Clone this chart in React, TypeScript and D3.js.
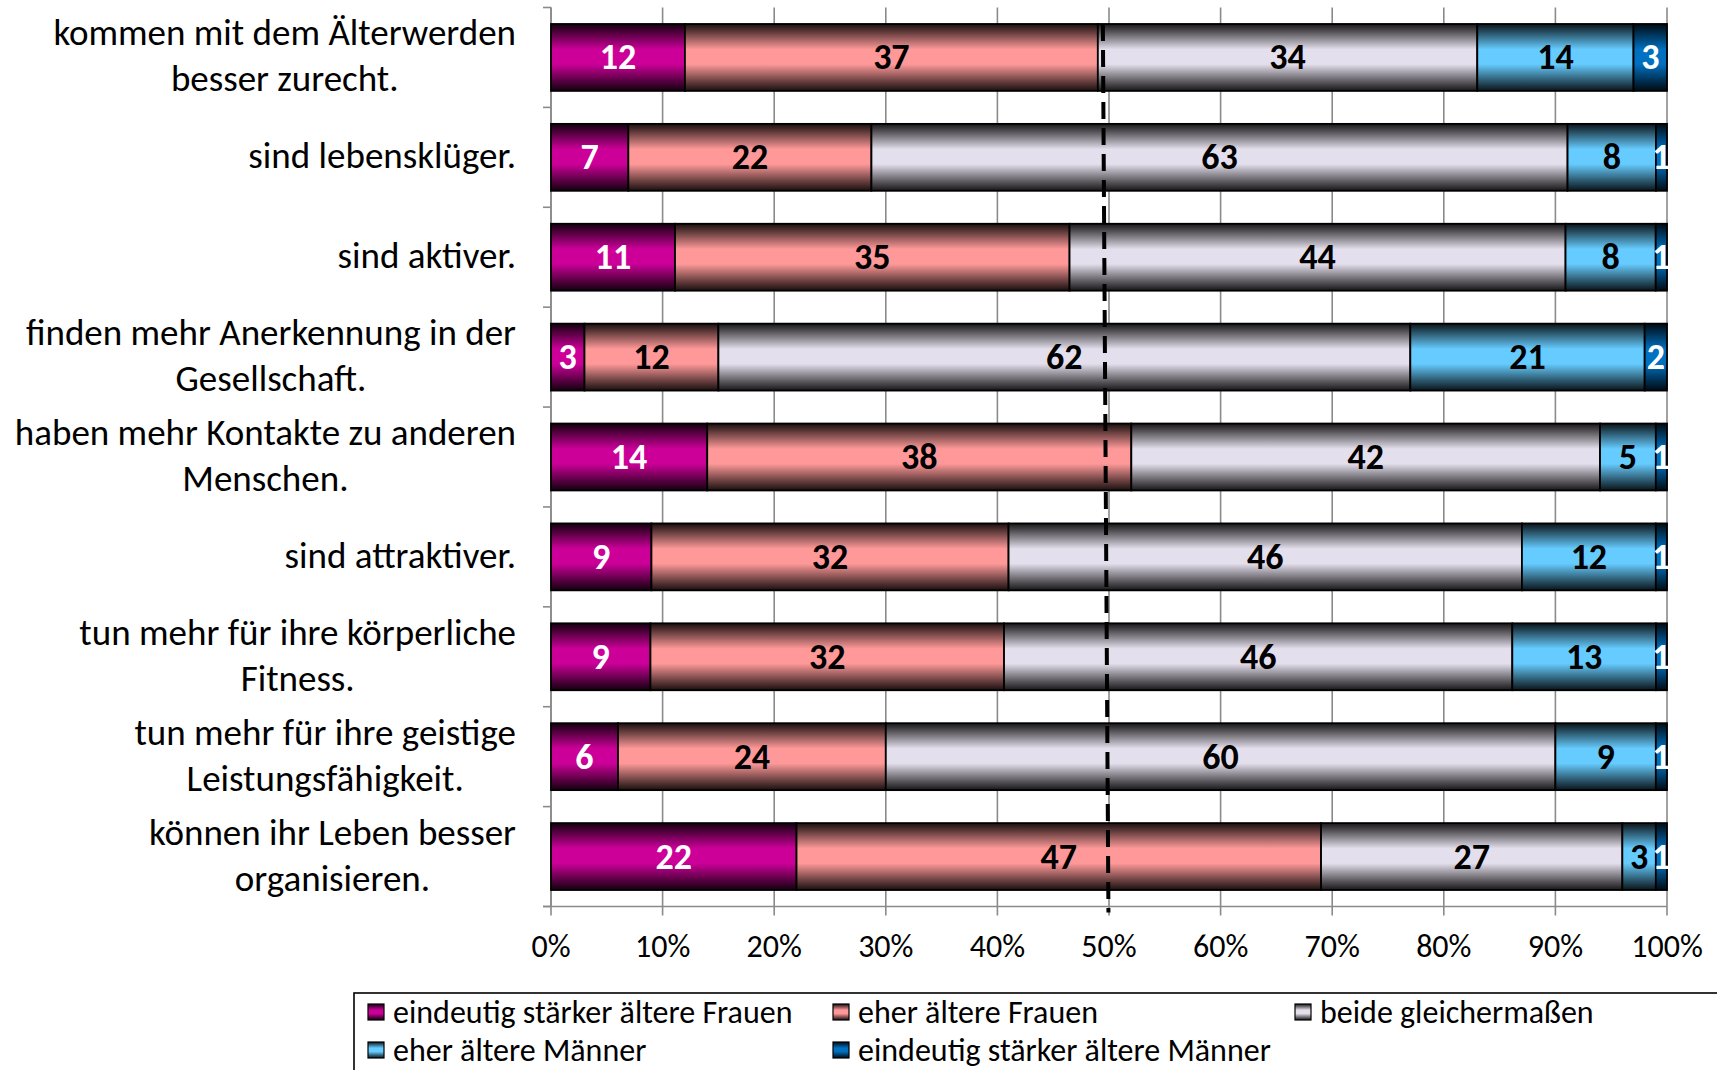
import React, { useEffect, useRef } from 'react';
import * as d3 from 'd3';

const categories: string[][] = [
  ['kommen mit dem Älterwerden', 'besser zurecht.'],
  ['sind lebensklüger.'],
  ['sind aktiver.'],
  ['finden mehr Anerkennung in der', 'Gesellschaft.'],
  ['haben mehr Kontakte zu anderen', 'Menschen.'],
  ['sind attraktiver.'],
  ['tun mehr für ihre körperliche', 'Fitness.'],
  ['tun mehr für ihre geistige', 'Leistungsfähigkeit.'],
  ['können ihr Leben besser', 'organisieren.'],
];

const seriesNames = [
  'eindeutig stärker ältere Frauen',
  'eher ältere Frauen',
  'beide gleichermaßen',
  'eher ältere Männer',
  'eindeutig stärker ältere Männer',
];

const eindeutigFrauen = [12, 7, 11, 3, 14, 9, 9, 6, 22];
const eherFrauen = [37, 22, 35, 12, 38, 32, 32, 24, 47];
const beideGleich = [34, 63, 44, 62, 42, 46, 46, 60, 27];
const eherMaenner = [14, 8, 8, 21, 5, 12, 13, 9, 3];
const eindeutigMaenner = [3, 1, 1, 2, 1, 1, 1, 1, 1];

const xTicks = [0, 0.1, 0.2, 0.3, 0.4, 0.5, 0.6, 0.7, 0.8, 0.9, 1];

const seriesColors = ['#CC0099', '#FF9999', '#E4DFEC', '#66CCFF', '#0070C0'];
const labelColors = ['#ffffff', '#000000', '#000000', '#000000', '#ffffff'];

// dashed reference line (share at top / bottom of plot)
const refLineTop = 0.4945;
const refLineBottom = 0.4995;

const FONT = 'Carlito, Calibri, Lato, sans-serif';

export default function App() {
  const ref = useRef<SVGSVGElement | null>(null);

  useEffect(() => {
    const svg = d3.select(ref.current);
    svg.selectAll('*').remove();

    const W = 1717, H = 1070;
    const left = 551, right = 1667, top = 7.5, bottom = 906.5;

    const x = d3.scaleLinear().domain([0, 1]).range([left, right]);
    const y = d3.scaleBand<number>()
      .domain(d3.range(categories.length))
      .range([top, bottom])
      .paddingInner(0.33)
      .paddingOuter(0.165);

    const seriesData = [eindeutigFrauen, eherFrauen, beideGleich, eherMaenner, eindeutigMaenner];
    const rows = categories.map((_, i) => {
      const o: any = { idx: i };
      seriesData.forEach((s, k) => (o['s' + k] = s[i]));
      return o;
    });
    const keys = seriesData.map((_, k) => 's' + k);
    const stacked = d3.stack<any>().keys(keys).offset(d3.stackOffsetExpand)(rows);

    const defs = svg.append('defs');
    seriesColors.forEach((c, k) => {
      const base = d3.rgb(c);
      const dark = d3.interpolateRgb(base, '#000')(0.9);
      const mid = d3.interpolateRgb(base, '#000')(0.55);
      const g = defs.append('linearGradient')
        .attr('id', 'grad' + k)
        .attr('x1', 0).attr('y1', 0).attr('x2', 0).attr('y2', 1);
      const stops: [number, string][] = [
        [0, dark], [0.15, mid], [0.38, c], [0.6, c], [0.84, mid], [1, dark],
      ];
      stops.forEach(([o, col]) => g.append('stop').attr('offset', o).attr('stop-color', col));
    });

    svg.append('rect').attr('width', W).attr('height', H).attr('fill', '#fff');

    // gridlines
    const grid = svg.append('g');
    grid.selectAll('line').data(xTicks).join('line')
      .attr('x1', d => x(d)).attr('x2', d => x(d))
      .attr('y1', top).attr('y2', bottom + 9)
      .attr('stroke', '#8a8a8a').attr('stroke-width', 1.6);

    // y axis
    svg.append('line').attr('x1', left).attr('x2', left).attr('y1', top).attr('y2', bottom)
      .attr('stroke', '#8a8a8a').attr('stroke-width', 1.6);
    const bounds = d3.range(categories.length + 1).map(i => top + i * y.step());
    svg.append('g').selectAll('line').data(bounds).join('line')
      .attr('x1', left - 8).attr('x2', left)
      .attr('y1', d => d).attr('y2', d => d)
      .attr('stroke', '#8a8a8a').attr('stroke-width', 1.6);

    // x axis
    svg.append('line').attr('x1', left - 8).attr('x2', right).attr('y1', bottom).attr('y2', bottom)
      .attr('stroke', '#8a8a8a').attr('stroke-width', 1.6);

    svg.append('g').selectAll('text').data(xTicks).join('text')
      .attr('x', d => x(d)).attr('y', 946)
      .attr('text-anchor', 'middle').attr('dominant-baseline', 'central')
      .attr('font-family', FONT).attr('font-size', 32).attr('fill', '#000')
      .text(d => d3.format('.0%')(d));

    // bars
    stacked.forEach((layer, k) => {
      const g = svg.append('g');
      g.selectAll('rect').data(layer).join('rect')
        .attr('x', d => x(d[0]))
        .attr('y', (d: any) => y(d.data.idx)!)
        .attr('width', d => x(d[1]) - x(d[0]))
        .attr('height', y.bandwidth())
        .attr('fill', `url(#grad${k})`)
        .attr('stroke', '#000').attr('stroke-width', 1.8);
    });

    // dashed reference line
    svg.append('line')
      .attr('x1', x(refLineTop)).attr('y1', y(0)!)
      .attr('x2', x(refLineBottom)).attr('y2', bottom + 6)
      .attr('stroke', '#000').attr('stroke-width', 4)
      .attr('stroke-dasharray', '17 9');

    // value labels
    stacked.forEach((layer, k) => {
      svg.append('g').selectAll('text').data(layer).join('text')
        .attr('x', d => (x(d[0]) + x(d[1])) / 2)
        .attr('y', (d: any) => y(d.data.idx)! + y.bandwidth() / 2)
        .attr('text-anchor', 'middle').attr('dominant-baseline', 'central')
        .attr('font-family', FONT).attr('font-weight', 'bold').attr('font-size', 36)
        .attr('fill', labelColors[k])
        .text((d: any) => d.data['s' + k]);
    });

    // category labels
    const labelRight = 516;
    const lineGap = 46;
    categories.forEach((lines, i) => {
      const cy = y(i)! + y.bandwidth() / 2 - 1.5;
      const g = svg.append('g');
      const texts = g.selectAll('text').data(lines).join('text')
        .attr('x', 0)
        .attr('y', (_, j) => cy + (j - (lines.length - 1) / 2) * lineGap)
        .attr('text-anchor', 'middle').attr('dominant-baseline', 'central')
        .attr('font-family', FONT).attr('font-size', 37).attr('fill', '#000')
        .text(d => d);
      let maxW = 0;
      texts.each(function () {
        const w = (this as SVGTextElement).getComputedTextLength();
        if (w > maxW) maxW = w;
      });
      g.attr('transform', `translate(${labelRight - maxW / 2},0)`);
    });

    // legend
    svg.append('rect').attr('x', 354).attr('y', 993).attr('width', 1500).attr('height', 200)
      .attr('fill', '#fff').attr('stroke', '#000').attr('stroke-width', 1.6);
    const legendPos = [
      [368, 1012], [833, 1012], [1295, 1012], [368, 1050], [833, 1050],
    ];
    seriesNames.forEach((name, k) => {
      const [lx, ly] = legendPos[k];
      svg.append('rect').attr('x', lx).attr('y', ly - 8).attr('width', 16).attr('height', 16)
        .attr('fill', `url(#grad${k})`).attr('stroke', '#000').attr('stroke-width', 1.2);
      svg.append('text').attr('x', lx + 25).attr('y', ly)
        .attr('dominant-baseline', 'central')
        .attr('font-family', FONT).attr('font-size', 32).attr('fill', '#000')
        .text(name);
    });
  }, []);

  return (
    <svg ref={ref} width={1717} height={1070}
      style={{ position: 'absolute', left: 0, top: 0, display: 'block' }} />
  );
}
